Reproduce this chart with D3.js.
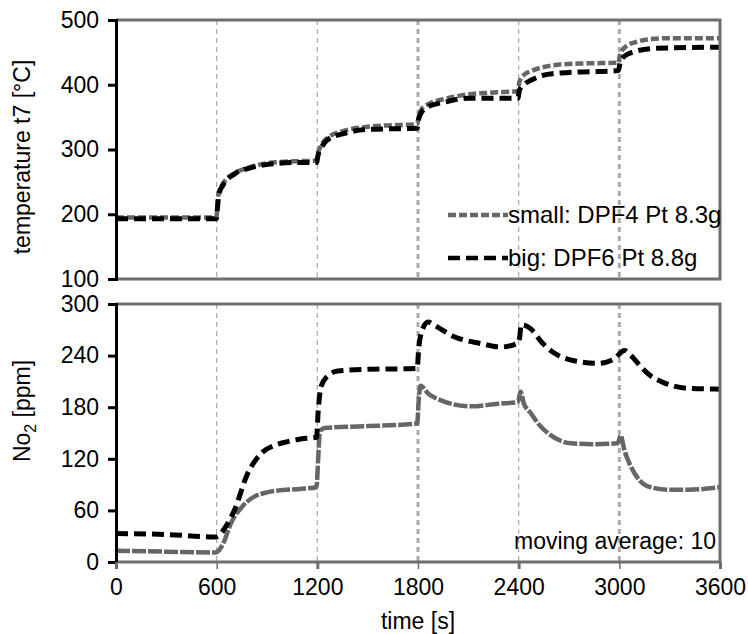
<!DOCTYPE html>
<html>
<head>
<meta charset="utf-8">
<script src="https://cdn.jsdelivr.net/npm/d3@7"></script>
<style>
  body { margin: 0; background: #fff; }
  svg { display: block; font-family: "Liberation Sans", Arial, sans-serif; }
</style>
</head>
<body>
<div id="chart"></div>
<script>
// time ticks and the dashed step markers
const timeTicks = [0, 600, 1200, 1800, 2400, 3000, 3600];
const stepMarks = [600, 1200, 1800, 2400, 3000];
const tempTicks = [100, 200, 300, 400, 500];
const no2Ticks = [0, 60, 120, 180, 240, 300];

// temperature t7 [°C], [time, value]
const tempSmall = [[0,195],[300,195],[598,195],[605,215],[612,232],[640,248],[705,263],[805,273],[904,279],[1000,281],[1100,282],[1195,283],
  [1205,295],[1222,306],[1261,318],[1361,329],[1500,335],[1600,337],[1795,339],[1805,352],[1820,362],[1860,370],[1957,378],[2096,385],
  [2250,388],[2395,390],[2405,405],[2430,415],[2473,421],[2560,428],[2632,431],[2800,433],[2995,434],[3005,448],[3049,461],[3100,466],
  [3169,470],[3300,472],[3600,472]];
const tempBig = [[0,193],[300,193],[598,193],[605,210],[612,230],[640,246],[705,262],[805,272],[904,277],[1100,280],[1195,280],
  [1205,292],[1222,302],[1261,315],[1361,325],[1500,331],[1795,333],[1805,348],[1820,357],[1860,366],[1957,373],[2096,379],[2395,379],
  [2405,392],[2440,402],[2473,407],[2572,416],[2700,419],[2831,420],[2995,422],[3005,435],[3030,444],[3089,451],[3200,456],[3600,458]];

// NO2 [ppm], [time, value]
const no2Small = [[0,13],[300,12],[590,11],[605,12],[640,22],[685,45],[750,64],[824,76],[900,81],[963,83],[1100,85],[1195,87],
  [1205,120],[1215,152],[1250,156],[1500,158],[1795,161],[1805,190],[1815,205],[1860,196],[1937,188],[2116,181],[2275,184],[2395,186],
  [2412,198],[2430,185],[2473,173],[2520,160],[2573,150],[2650,141],[2712,138],[2850,137],[2990,138],[3008,147],[3030,130],[3069,111],
  [3120,95],[3169,88],[3300,84],[3407,84],[3600,87]];
const no2Big = [[0,33],[300,32],[590,29],[610,30],[650,40],[705,60],[785,103],[864,126],[950,136],[1023,140],[1100,143],[1195,145],
  [1205,175],[1222,204],[1260,216],[1321,222],[1500,224],[1795,225],[1805,250],[1830,272],[1860,279],[1900,275],[2016,262],[2175,254],
  [2294,250],[2390,254],[2405,260],[2415,276],[2440,275],[2473,271],[2540,255],[2612,243],[2731,234],[2870,231],[2969,236],[3030,246],
  [3070,240],[3129,227],[3190,216],[3248,210],[3407,202],[3600,201]];

const legendLabels = ["small: DPF4 Pt 8.3g", "big: DPF6 Pt 8.8g"];

const W = 748, H = 634;
const left = 116, right = 720;
const frameGray = "#6e6e6e", seriesGray = "#666", markGray = "#aaa";
const fontFam = "Liberation Sans, Arial, sans-serif";

const svg = d3.select("#chart").append("svg")
  .attr("width", W).attr("height", H);

const x = d3.scaleLinear().domain([0, 3600]).range([left, right]);
const yT = d3.scaleLinear().domain([100, 500]).range([279, 20]);
const yN = d3.scaleLinear().domain([0, 300]).range([562, 304]);

function panel(y, ticks, small, big, smallDash) {
  const [y0, y1] = y.range();
  const g = svg.append("g");

  // dashed step markers
  g.selectAll("line.mark")
    .data(stepMarks)
    .join("line")
    .attr("x1", d => x(d)).attr("x2", d => x(d))
    .attr("y1", y1).attr("y2", y0)
    .attr("stroke", markGray)
    .attr("stroke-width", d => (d === 1800 || d === 3000) ? 3 : 1.2)
    .attr("stroke-dasharray", "5,4");

  const line = d3.line()
    .x(d => x(d[0])).y(d => y(d[1]))
    .curve(d3.curveMonotoneX);

  g.append("path").datum(small)
    .attr("d", line).attr("fill", "none")
    .attr("stroke", seriesGray).attr("stroke-width", 4.5)
    .attr("stroke-dasharray", smallDash);
  g.append("path").datum(big)
    .attr("d", line).attr("fill", "none")
    .attr("stroke", "#000").attr("stroke-width", 5)
    .attr("stroke-dasharray", "12,6");

  // frame: top, right, bottom in gray
  g.append("path")
    .attr("d", `M${left},${y1}H${right}V${y0}H${left}`)
    .attr("fill", "none").attr("stroke", frameGray).attr("stroke-width", 3);

  // left axis in black
  const ax = g.append("g")
    .attr("transform", `translate(${left},0)`)
    .call(d3.axisLeft(y).tickValues(ticks).tickSize(8).tickPadding(9));
  ax.select(".domain").attr("stroke", "#000").attr("stroke-width", 3);
  ax.selectAll(".tick line").attr("stroke", "#000").attr("stroke-width", 3);
  ax.selectAll(".tick text").attr("font-size", 23).attr("fill", "#000")
    .attr("font-family", fontFam);
  return g;
}

panel(yT, tempTicks, tempSmall, tempBig, "8,3");
panel(yN, no2Ticks, no2Small, no2Big, "14,2");

// bottom time axis
const xa = svg.append("g")
  .attr("transform", "translate(0,562)")
  .call(d3.axisBottom(x).tickValues(timeTicks).tickFormat(d3.format("d"))
    .tickSize(7).tickPadding(10));
xa.select(".domain").remove();
xa.selectAll(".tick line").attr("stroke", frameGray)
  .attr("stroke-width", (d, i) => i % 2 === 0 ? 3 : 1.5);
xa.selectAll(".tick text").attr("font-size", 23).attr("fill", "#000")
  .attr("font-family", fontFam);

// axis titles
svg.append("text")
  .attr("transform", "translate(30,157) rotate(-90)")
  .attr("text-anchor", "middle").attr("font-size", 23)
  .text("temperature t7 [°C]");

const no2Title = svg.append("text")
  .attr("transform", "translate(30,411) rotate(-90)")
  .attr("text-anchor", "middle").attr("font-size", 23);
no2Title.append("tspan").text("No");
no2Title.append("tspan").attr("font-size", 16).attr("dy", 6).text("2");
no2Title.append("tspan").attr("dy", -6).text(" [ppm]");

svg.append("text")
  .attr("x", x(1800)).attr("y", 629)
  .attr("text-anchor", "middle").attr("font-size", 23)
  .text("time [s]");

// legend
const legend = svg.append("g");
const legendRows = [
  { label: legendLabels[0], color: seriesGray, dash: "8,3", y: 215 },
  { label: legendLabels[1], color: "#000", dash: "12,6", y: 258 }
];
legend.selectAll("line")
  .data(legendRows)
  .join("line")
  .attr("x1", 448).attr("x2", 508)
  .attr("y1", d => d.y).attr("y2", d => d.y)
  .attr("stroke", d => d.color).attr("stroke-width", 4.5)
  .attr("stroke-dasharray", d => d.dash);
legend.selectAll("text")
  .data(legendRows)
  .join("text")
  .attr("x", 508).attr("y", d => d.y + 8)
  .attr("font-size", 24)
  .text(d => d.label);

svg.append("text")
  .attr("x", 716).attr("y", 549)
  .attr("text-anchor", "end").attr("font-size", 23)
  .text("moving average: 10");
</script>
</body>
</html>
